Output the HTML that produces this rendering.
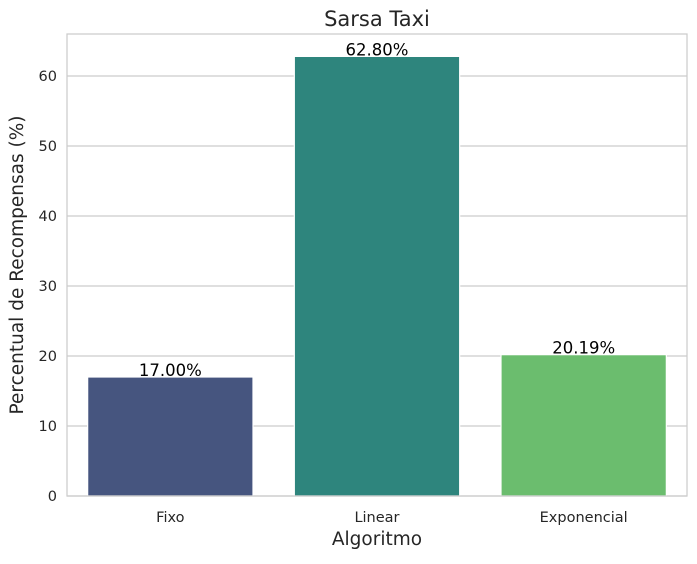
<!DOCTYPE html>
<html><head><meta charset="utf-8"><style>
body{margin:0;background:#fff;font-family:"Liberation Sans","DejaVu Sans",sans-serif;}
</style></head><body>
<svg id="chart" width="697" height="559" xmlns="http://www.w3.org/2000/svg" font-family="DejaVu Sans, Liberation Sans, sans-serif">
<rect width="697" height="559" fill="#fff"/>
<g id="grid"></g>
<g id="bars"></g>
<rect x="67" y="34" width="620" height="462" fill="none" stroke="#cccccc" stroke-width="1.25"/>
<g id="ticks"></g>
<text x="377" y="26" text-anchor="middle" font-size="21" fill="#262626">Sarsa Taxi</text>
<text x="377" y="545" text-anchor="middle" font-size="18.5" fill="#262626">Algoritmo</text>
<text transform="translate(23,265) rotate(-90)" text-anchor="middle" font-size="18.5" fill="#262626">Percentual de Recompensas (%)</text>
</svg>
<script>
const categories=["Fixo","Linear","Exponencial"];
const values=[17.00,62.80,20.19];
const colors=["#46557f","#2e857d","#6bbd6e"];
const yTicks=[0,10,20,30,40,50,60];
const L=67,R=687,T=34,B=496,yMax=66;
const NS="http://www.w3.org/2000/svg";
const y=v=>B-(v/yMax)*(B-T);
const band=(R-L)/categories.length;
const xc=i=>L+band*(i+0.5);
const grid=document.getElementById('grid'),bars=document.getElementById('bars'),ticks=document.getElementById('ticks');
function mk(tag,attrs,parent){const e=document.createElementNS(NS,tag);for(const k in attrs)e.setAttribute(k,attrs[k]);parent.appendChild(e);return e;}
yTicks.forEach(t=>{
  const g=mk('line',{x1:L,x2:R,y1:y(t),y2:y(t),stroke:'#cccccc','stroke-width':1.25},grid);
  
  
  const tx=mk('text',{x:L-10,y:y(t)+5,'text-anchor':'end','font-size':14.5,fill:'#262626'},ticks);
  tx.textContent=t;
  
  
});
categories.forEach((c,i)=>{
  const w=band*0.8;
  const r=mk('rect',{x:xc(i)-w/2,y:y(values[i]),width:w,height:B-y(values[i]),fill:colors[i],stroke:'#fff','stroke-width':1.2},bars);
  
  
  const lb=mk('text',{x:xc(i),y:y(values[i])-1,'text-anchor':'middle','font-size':16.5,fill:'#000'},bars);
  lb.textContent=values[i].toFixed(2)+'%';
  
  
  const xt=mk('text',{x:xc(i),y:B+26,'text-anchor':'middle','font-size':14.5,fill:'#262626'},ticks);
  xt.textContent=c;
  
  
});
</script>
</body></html>
